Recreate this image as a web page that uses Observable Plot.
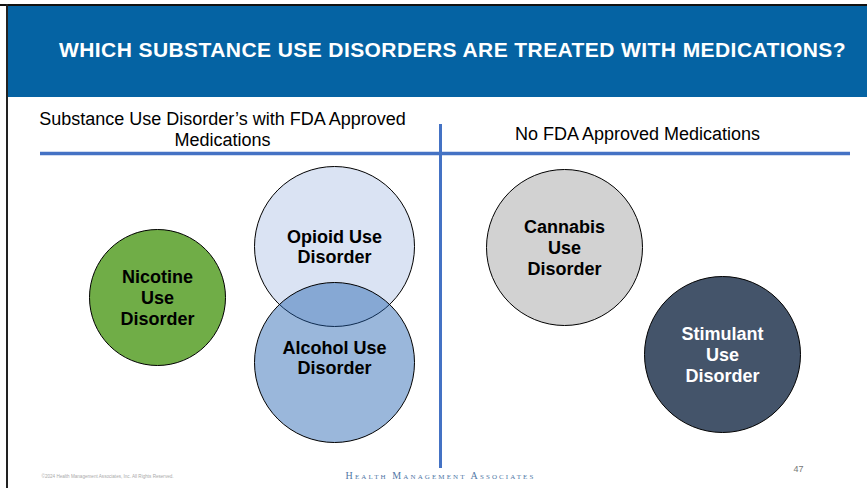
<!DOCTYPE html>
<html>
<head>
<meta charset="utf-8">
<script src="https://cdn.jsdelivr.net/npm/d3@7"></script>
<script src="https://cdn.jsdelivr.net/npm/@observablehq/plot@0.6"></script>
<style>
  html, body { margin: 0; padding: 0; background: #fff; }
  svg { display: block; }
</style>
</head>
<body>
<div id="chart"></div>
<script>
// ---- data ----
const title = "WHICH SUBSTANCE USE DISORDERS ARE TREATED WITH MEDICATIONS?";
const groupLabels = ["Substance Use Disorder’s with FDA Approved\nMedications", "No FDA Approved Medications"];
const disorders = ["Nicotine\nUse\nDisorder", "Opioid Use\nDisorder", "Alcohol Use\nDisorder", "Cannabis\nUse\nDisorder", "Stimulant\nUse\nDisorder"];
const groupOf = ["FDA approved", "FDA approved", "FDA approved", "No FDA approved", "No FDA approved"];
const circleX = [157, 334, 334, 564, 722];
const circleY = [297, 246, 362, 247, 354];
const circleR = [68, 80, 80, 78, 78];
const labelY = [297, 246, 357, 247, 354];
const fills = ["#70AD47", "#DAE3F3", "#1F5FAF", "#D2D2D2", "#44546A"];
const fillOpacity = [1, 1, 0.45, 1, 1];
const textColors = ["#000", "#000", "#000", "#000", "#fff"];
const footer = "©2024 Health Management Associates, Inc. All Rights Reserved.";
const brand = "Health Management Associates";
const pageNumber = "47";

const circles = disorders.map((d, i) => ({
  label: d, group: groupOf[i], x: circleX[i], y: circleY[i], r: circleR[i],
  ly: labelY[i], fill: fills[i], op: fillOpacity[i], tc: textColors[i]
}));

const W = 867, H = 488;
const plot = Plot.plot({
  width: W, height: H, margin: 0,
  x: {domain: [0, W], range: [0, W], axis: null},
  y: {domain: [0, H], range: [0, H], axis: null},
  r: {type: "identity"},
  style: {fontFamily: "'Liberation Sans', Arial, sans-serif", background: "#fff"},
  marks: [
    // frame and header band
    Plot.rect([{}], {x1: 0, x2: W, y1: 4, y2: 6, fill: "#111"}),
    Plot.rect([{}], {x1: 6, x2: 8, y1: 4, y2: H, fill: "#222"}),
    Plot.rect([{}], {x1: 8, x2: W, y1: 6, y2: 97, fill: "#0563A3"}),
    Plot.text([title], {x: 452, y: 50, text: d => d, fill: "#fff", fontWeight: "bold", fontSize: 21}),
    // group headings
    Plot.text([groupLabels[0]], {x: 222, y: 128, text: d => d, fill: "#000", fontSize: 18, lineHeight: 1.17}),
    Plot.text([groupLabels[1]], {x: 637, y: 134, text: d => d, fill: "#000", fontSize: 18}),
    // dividers
    Plot.ruleY([153], {x1: 40, x2: 850, stroke: "#4472C4", strokeWidth: 3.5}),
    Plot.ruleX([440], {y1: 124, y2: 468, stroke: "#4472C4", strokeWidth: 3}),
    // circles
    Plot.dot(circles, {x: "x", y: "y", r: "r", fill: "fill", fillOpacity: "op", stroke: "#000", strokeWidth: 1}),
    Plot.text(circles, {x: "x", y: "ly", text: "label", fill: "tc", fontWeight: "bold", fontSize: 18, lineHeight: 1.15}),
    // footer
    Plot.text([footer], {x: 41, y: 476, text: d => d, textAnchor: "start", fill: "#aaa", fontSize: 4.6}),
    Plot.text([brand], {x: 440, y: 475, text: d => d, fill: "#4F77A6", fontSize: 10, fontVariant: "small-caps",
      fontFamily: "'Liberation Serif', 'DejaVu Serif', serif"}),
    Plot.text([pageNumber], {x: 798, y: 469, text: d => d, fill: "#777", fontSize: 9})
  ]
});
document.getElementById("chart").appendChild(plot);
const texts = d3.select(plot).selectAll("text");
texts.filter(function() { return this.textContent === brand; }).attr("letter-spacing", "2.1px");
texts.filter(function() { return this.textContent === title; }).attr("letter-spacing", "0.42px");
</script>
</body>
</html>
